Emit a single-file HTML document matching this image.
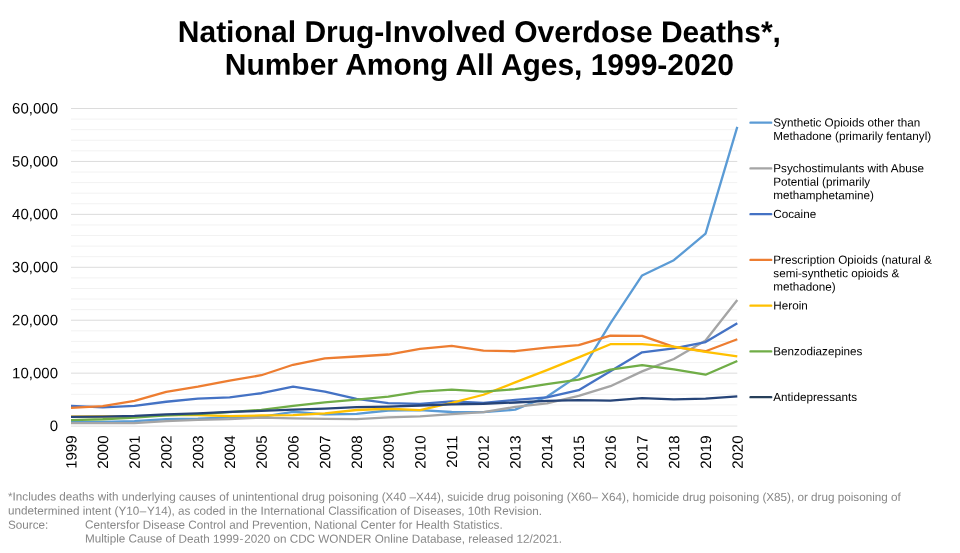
<!DOCTYPE html>
<html lang="en"><head><meta charset="utf-8"><title>National Drug-Involved Overdose Deaths</title>
<style>
html,body{margin:0;padding:0;background:#fff;}
body{width:960px;height:553px;overflow:hidden;position:relative;font-family:"Liberation Sans",Arial,sans-serif;}
svg{position:absolute;left:0;top:0;will-change:transform;}
svg text{font-family:"Liberation Sans",Arial,sans-serif;}
.title{font-weight:bold;font-size:30px;fill:#000;text-anchor:middle;}
.yl{font-size:15px;fill:#000;text-anchor:end;}
.xl{font-size:15px;fill:#000;text-anchor:end;}
.lg{font-size:11.7px;fill:#000;}
.ft{font-size:11.7px;fill:#878787;white-space:pre;}
.s{fill:none;stroke-width:2.3;stroke-linecap:butt;stroke-linejoin:round;}
</style></head><body>
<svg width="960" height="553" viewBox="0 0 960 553">
<rect width="960" height="553" fill="#fff"/>

<g id="grid">
<line x1="71.00" x2="737.30" y1="426.10" y2="426.10" stroke="#DCDCDC" stroke-width="1"/>
<line x1="71.00" x2="737.30" y1="415.51" y2="415.51" stroke="#F2F2F2" stroke-width="1"/>
<line x1="71.00" x2="737.30" y1="404.93" y2="404.93" stroke="#F2F2F2" stroke-width="1"/>
<line x1="71.00" x2="737.30" y1="394.34" y2="394.34" stroke="#F2F2F2" stroke-width="1"/>
<line x1="71.00" x2="737.30" y1="383.75" y2="383.75" stroke="#F2F2F2" stroke-width="1"/>
<line x1="71.00" x2="737.30" y1="373.17" y2="373.17" stroke="#DCDCDC" stroke-width="1"/>
<line x1="71.00" x2="737.30" y1="362.58" y2="362.58" stroke="#F2F2F2" stroke-width="1"/>
<line x1="71.00" x2="737.30" y1="351.99" y2="351.99" stroke="#F2F2F2" stroke-width="1"/>
<line x1="71.00" x2="737.30" y1="341.41" y2="341.41" stroke="#F2F2F2" stroke-width="1"/>
<line x1="71.00" x2="737.30" y1="330.82" y2="330.82" stroke="#F2F2F2" stroke-width="1"/>
<line x1="71.00" x2="737.30" y1="320.23" y2="320.23" stroke="#DCDCDC" stroke-width="1"/>
<line x1="71.00" x2="737.30" y1="309.65" y2="309.65" stroke="#F2F2F2" stroke-width="1"/>
<line x1="71.00" x2="737.30" y1="299.06" y2="299.06" stroke="#F2F2F2" stroke-width="1"/>
<line x1="71.00" x2="737.30" y1="288.47" y2="288.47" stroke="#F2F2F2" stroke-width="1"/>
<line x1="71.00" x2="737.30" y1="277.89" y2="277.89" stroke="#F2F2F2" stroke-width="1"/>
<line x1="71.00" x2="737.30" y1="267.30" y2="267.30" stroke="#DCDCDC" stroke-width="1"/>
<line x1="71.00" x2="737.30" y1="256.71" y2="256.71" stroke="#F2F2F2" stroke-width="1"/>
<line x1="71.00" x2="737.30" y1="246.13" y2="246.13" stroke="#F2F2F2" stroke-width="1"/>
<line x1="71.00" x2="737.30" y1="235.54" y2="235.54" stroke="#F2F2F2" stroke-width="1"/>
<line x1="71.00" x2="737.30" y1="224.95" y2="224.95" stroke="#F2F2F2" stroke-width="1"/>
<line x1="71.00" x2="737.30" y1="214.37" y2="214.37" stroke="#DCDCDC" stroke-width="1"/>
<line x1="71.00" x2="737.30" y1="203.78" y2="203.78" stroke="#F2F2F2" stroke-width="1"/>
<line x1="71.00" x2="737.30" y1="193.19" y2="193.19" stroke="#F2F2F2" stroke-width="1"/>
<line x1="71.00" x2="737.30" y1="182.61" y2="182.61" stroke="#F2F2F2" stroke-width="1"/>
<line x1="71.00" x2="737.30" y1="172.02" y2="172.02" stroke="#F2F2F2" stroke-width="1"/>
<line x1="71.00" x2="737.30" y1="161.43" y2="161.43" stroke="#DCDCDC" stroke-width="1"/>
<line x1="71.00" x2="737.30" y1="150.85" y2="150.85" stroke="#F2F2F2" stroke-width="1"/>
<line x1="71.00" x2="737.30" y1="140.26" y2="140.26" stroke="#F2F2F2" stroke-width="1"/>
<line x1="71.00" x2="737.30" y1="129.67" y2="129.67" stroke="#F2F2F2" stroke-width="1"/>
<line x1="71.00" x2="737.30" y1="119.09" y2="119.09" stroke="#F2F2F2" stroke-width="1"/>
<line x1="71.00" x2="737.30" y1="108.50" y2="108.50" stroke="#DCDCDC" stroke-width="1"/>
</g>
<g id="series">
<polyline class="s" stroke="#5B9BD5" points="71.00,422.24 102.73,421.96 134.46,421.03 166.19,419.25 197.91,418.69 229.64,417.29 261.37,416.88 293.10,411.77 324.83,414.39 356.56,413.89 388.29,410.51 420.01,410.18 451.74,411.99 483.47,412.19 515.20,409.66 546.93,396.75 578.66,375.39 610.39,323.34 642.11,275.42 673.84,260.23 705.57,233.64 737.30,126.94"/>
<polyline class="s" stroke="#A5A5A5" points="71.00,423.20 102.73,423.04 134.46,423.12 166.19,421.12 197.91,419.86 229.64,419.19 261.37,417.59 293.10,418.36 324.83,418.81 356.56,419.21 388.29,417.46 420.01,416.29 451.74,414.11 483.47,412.15 515.20,406.90 546.93,403.35 578.66,395.84 610.39,386.18 642.11,371.40 673.84,359.00 705.57,340.52 737.30,299.92"/>
<polyline class="s" stroke="#4472C4" points="71.00,405.87 102.73,407.34 134.46,405.81 166.19,401.76 197.91,398.58 229.64,397.29 261.37,393.24 293.10,386.68 324.83,391.63 356.56,398.95 388.29,403.07 420.01,403.96 451.74,401.32 483.47,402.79 515.20,399.93 546.93,397.44 578.66,390.19 610.39,371.18 642.11,352.30 673.84,348.47 705.57,342.03 737.30,323.16"/>
<polyline class="s" stroke="#ED7D31" points="71.00,407.88 102.73,406.06 134.46,400.85 166.19,391.78 197.91,386.61 229.64,380.70 261.37,375.22 293.10,364.76 324.83,358.37 356.56,356.50 388.29,354.52 420.01,348.91 451.74,345.96 483.47,350.72 515.20,351.23 546.93,347.56 578.66,345.21 610.39,335.65 642.11,335.96 673.84,346.83 705.57,351.26 737.30,339.20"/>
<polyline class="s" stroke="#FFC000" points="71.00,416.57 102.73,416.35 134.46,416.68 166.19,415.04 197.91,415.09 229.64,416.16 261.37,415.47 293.10,415.05 324.83,413.40 356.56,410.00 388.29,408.75 420.01,410.03 451.74,402.83 483.47,394.74 515.20,382.39 546.93,370.13 578.66,357.34 610.39,344.22 642.11,344.15 673.84,346.72 705.57,351.89 737.30,356.41"/>
<polyline class="s" stroke="#70AD47" points="71.00,420.09 102.73,419.23 134.46,417.66 166.19,415.40 197.91,414.20 229.64,412.19 261.37,409.78 293.10,405.80 324.83,402.28 356.56,399.58 388.29,396.63 420.01,391.71 451.74,389.72 483.47,391.57 515.20,389.19 546.93,384.04 578.66,379.57 610.39,369.55 642.11,365.03 673.84,369.33 705.57,374.70 737.30,361.04"/>
<polyline class="s" stroke="#264478" points="71.00,416.84 102.73,416.58 134.46,415.90 166.19,414.39 197.91,413.46 229.64,411.96 261.37,410.96 293.10,409.54 324.83,408.63 356.56,407.17 388.29,406.55 420.01,405.51 451.74,404.33 483.47,403.77 515.20,402.50 546.93,400.86 578.66,400.19 610.39,400.63 642.11,398.21 673.84,399.29 705.57,398.71 737.30,396.47"/>
</g>
<text class="title" x="479.35" y="42.1" transform="rotate(0.03 479.35 42.1)" letter-spacing="-0.01">National Drug-Involved Overdose Deaths*,</text>
<text class="title" x="479.35" y="74.9" transform="rotate(0.03 479.35 74.9)" letter-spacing="-0.035">Number Among All Ages, 1999-2020</text>
<g id="ylabels">
<text class="yl" x="58.00" y="431.10" transform="rotate(0.03 38.0 431.10)">0</text>
<text class="yl" x="58.00" y="378.17" transform="rotate(0.03 38.0 378.17)">10,000</text>
<text class="yl" x="58.00" y="325.23" transform="rotate(0.03 38.0 325.23)">20,000</text>
<text class="yl" x="58.00" y="272.30" transform="rotate(0.03 38.0 272.30)">30,000</text>
<text class="yl" x="58.00" y="219.37" transform="rotate(0.03 38.0 219.37)">40,000</text>
<text class="yl" x="58.00" y="166.43" transform="rotate(0.03 38.0 166.43)">50,000</text>
<text class="yl" x="58.00" y="113.50" transform="rotate(0.03 38.0 113.50)">60,000</text>
</g>
<g id="xlabels">
<text class="xl" transform="translate(76.40,435.45) rotate(-89.97)">1999</text>
<text class="xl" transform="translate(108.13,435.45) rotate(-89.97)">2000</text>
<text class="xl" transform="translate(139.86,435.45) rotate(-89.97)">2001</text>
<text class="xl" transform="translate(171.59,435.45) rotate(-89.97)">2002</text>
<text class="xl" transform="translate(203.31,435.45) rotate(-89.97)">2003</text>
<text class="xl" transform="translate(235.04,435.45) rotate(-89.97)">2004</text>
<text class="xl" transform="translate(266.77,435.45) rotate(-89.97)">2005</text>
<text class="xl" transform="translate(298.50,435.45) rotate(-89.97)">2006</text>
<text class="xl" transform="translate(330.23,435.45) rotate(-89.97)">2007</text>
<text class="xl" transform="translate(361.96,435.45) rotate(-89.97)">2008</text>
<text class="xl" transform="translate(393.69,435.45) rotate(-89.97)">2009</text>
<text class="xl" transform="translate(425.41,435.45) rotate(-89.97)">2010</text>
<text class="xl" transform="translate(457.14,435.45) rotate(-89.97)">2011</text>
<text class="xl" transform="translate(488.87,435.45) rotate(-89.97)">2012</text>
<text class="xl" transform="translate(520.60,435.45) rotate(-89.97)">2013</text>
<text class="xl" transform="translate(552.33,435.45) rotate(-89.97)">2014</text>
<text class="xl" transform="translate(584.06,435.45) rotate(-89.97)">2015</text>
<text class="xl" transform="translate(615.79,435.45) rotate(-89.97)">2016</text>
<text class="xl" transform="translate(647.51,435.45) rotate(-89.97)">2017</text>
<text class="xl" transform="translate(679.24,435.45) rotate(-89.97)">2018</text>
<text class="xl" transform="translate(710.97,435.45) rotate(-89.97)">2019</text>
<text class="xl" transform="translate(742.70,435.45) rotate(-89.97)">2020</text>
</g>
<g id="legend">
<line x1="750.5" x2="771.2" y1="122.65" y2="122.65" stroke="#5B9BD5" stroke-width="2.4" stroke-linecap="round"/>
<text class="lg" x="773.30" y="126.50" transform="rotate(0.03 833.3 126.50)">Synthetic Opioids other than</text>
<text class="lg" x="773.30" y="139.95" transform="rotate(0.03 833.3 139.95)">Methadone (primarily fentanyl)</text>
<line x1="750.5" x2="771.2" y1="168.40" y2="168.40" stroke="#A5A5A5" stroke-width="2.4" stroke-linecap="round"/>
<text class="lg" x="773.30" y="172.25" transform="rotate(0.03 833.3 172.25)">Psychostimulants with Abuse</text>
<text class="lg" x="773.30" y="185.70" transform="rotate(0.03 833.3 185.70)">Potential (primarily</text>
<text class="lg" x="773.30" y="199.15" transform="rotate(0.03 833.3 199.15)">methamphetamine)</text>
<line x1="750.5" x2="771.2" y1="214.15" y2="214.15" stroke="#4472C4" stroke-width="2.4" stroke-linecap="round"/>
<text class="lg" x="773.30" y="218.00" transform="rotate(0.03 833.3 218.00)">Cocaine</text>
<line x1="750.5" x2="771.2" y1="259.90" y2="259.90" stroke="#ED7D31" stroke-width="2.4" stroke-linecap="round"/>
<text class="lg" x="773.30" y="263.75" transform="rotate(0.03 833.3 263.75)">Prescription Opioids (natural &amp;</text>
<text class="lg" x="773.30" y="277.20" transform="rotate(0.03 833.3 277.20)">semi-synthetic opioids &amp;</text>
<text class="lg" x="773.30" y="290.65" transform="rotate(0.03 833.3 290.65)">methadone)</text>
<line x1="750.5" x2="771.2" y1="305.65" y2="305.65" stroke="#FFC000" stroke-width="2.4" stroke-linecap="round"/>
<text class="lg" x="773.30" y="309.50" transform="rotate(0.03 833.3 309.50)">Heroin</text>
<line x1="750.5" x2="771.2" y1="351.40" y2="351.40" stroke="#70AD47" stroke-width="2.4" stroke-linecap="round"/>
<text class="lg" x="773.30" y="355.25" transform="rotate(0.03 833.3 355.25)">Benzodiazepines</text>
<line x1="750.5" x2="771.2" y1="397.15" y2="397.15" stroke="#27405A" stroke-width="2.4" stroke-linecap="round"/>
<text class="lg" x="773.30" y="401.00" transform="rotate(0.03 833.3 401.00)">Antidepressants</text>
</g>
<g id="footnote">
<text class="ft" x="8.05" y="500.80" transform="rotate(0.03 454.6 500.80)">*Includes deaths with underlying causes of unintentional drug poisoning (X40 –X44), suicide drug poisoning (X60– X64), homicide drug poisoning (X85), or drug poisoning of</text>
<text class="ft" x="8.05" y="514.77" transform="rotate(0.03 303.1 514.77)">undetermined intent (Y10<tspan dx="0.5">–</tspan><tspan dx="0.6">Y14</tspan>), as coded in the International Classification of Diseases, 10th Revision.</text>
<text class="ft" x="8.05" y="528.74" transform="rotate(0.03 8.1 528.74)">Source:</text>
<text class="ft" x="85.00" y="528.74" transform="rotate(0.03 295.0 528.74)">Centersfor Disease Control and Prevention, National Center for Health Statistics.</text>
<text class="ft" x="85.00" y="542.71" transform="rotate(0.03 322.5 542.71)">Multiple Cause of Death 1999<tspan dx="0.6">-</tspan><tspan dx="0.7">2020</tspan> on CDC WONDER Online Database, released 12/2021.</text>
</g>
</svg></body></html>
